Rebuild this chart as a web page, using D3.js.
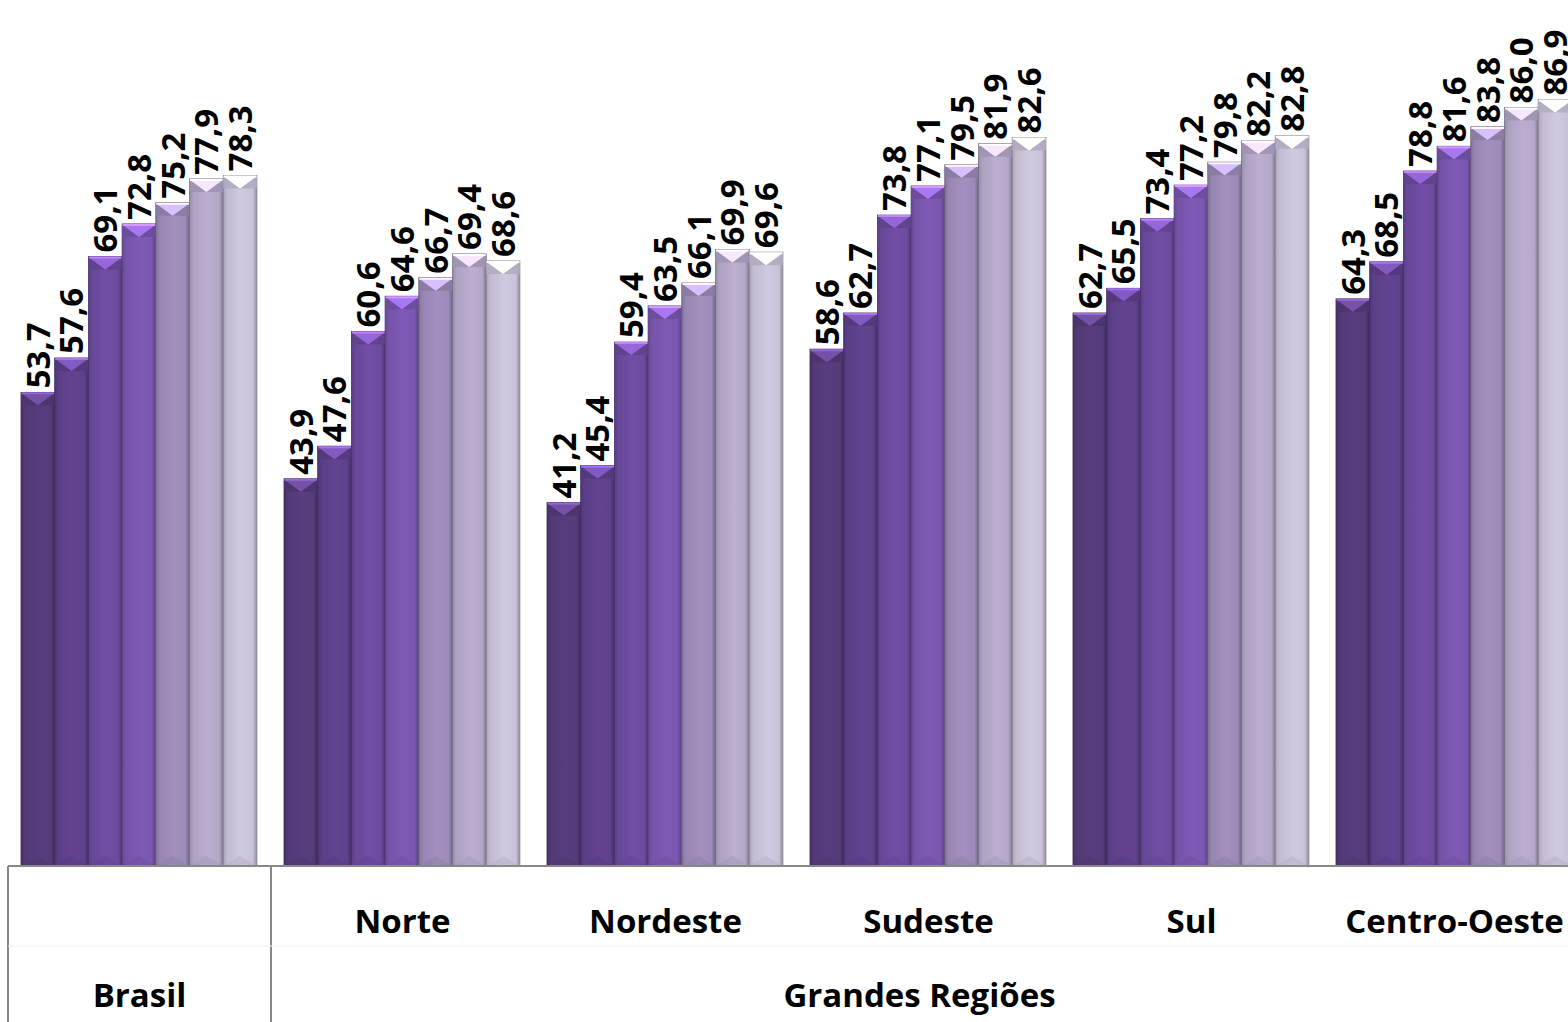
<!DOCTYPE html>
<html>
<head>
<meta charset="utf-8">
<script src="https://cdn.jsdelivr.net/npm/d3@7"></script>
<style>
  body { margin: 0; background: #fff; }
  svg { display: block; }
</style>
</head>
<body>
<svg id="chart" width="1568" height="1022"></svg>
<script>
const categories = ["Brasil", "Norte", "Nordeste", "Sudeste", "Sul", "Centro-Oeste"];
const seriesNames = ["S1", "S2", "S3", "S4", "S5", "S6", "S7"];
const serie1 = [53.7, 43.9, 41.2, 58.6, 62.7, 64.3];
const serie2 = [57.6, 47.6, 45.4, 62.7, 65.5, 68.5];
const serie3 = [69.1, 60.6, 59.4, 73.8, 73.4, 78.8];
const serie4 = [72.8, 64.6, 63.5, 77.1, 77.2, 81.6];
const serie5 = [75.2, 66.7, 66.1, 79.5, 79.8, 83.8];
const serie6 = [77.9, 69.4, 69.9, 81.9, 82.2, 86.0];
const serie7 = [78.3, 68.6, 69.6, 82.6, 82.8, 86.9];
const seriesColors = ["#553b7a", "#5f418d", "#6c4b9f", "#7a57b0", "#9c8bb8", "#b4a8c9", "#cac2d8"];

const allSeries = [serie1, serie2, serie3, serie4, serie5, serie6, serie7];

function drawChart() {
    const svg = d3.select("#chart");
    const baseY = 866;
    const fmt = (v) => d3.format(".1f")(v).replace(".", ",");

    const x0 = d3.scaleBand().domain(categories).range([8, 8 + 263 * categories.length]).paddingInner(0);
    const x1 = d3.scaleBand().domain(seriesNames).range([13, 13 + 7 * 33.7]).padding(0);
    const y = d3.scaleLinear().domain([0, 100]).range([baseY, baseY - 882]);

    const rows = [];
    categories.forEach((c, ci) => {
        allSeries.forEach((s, si) => {
            rows.push({cat: c, serie: seriesNames[si], si: si, value: s[ci]});
        });
    });

    const defs = svg.append("defs");
    seriesColors.forEach((col, i) => {
        const c = d3.color(col);
        const gr = defs.append("linearGradient").attr("id", "g" + i)
            .attr("x1", "0%").attr("x2", "100%").attr("y1", "0%").attr("y2", "0%");
        gr.append("stop").attr("offset", "0%").attr("stop-color", c.darker(0.5));
        gr.append("stop").attr("offset", "12%").attr("stop-color", c.darker(0.1));
        gr.append("stop").attr("offset", "55%").attr("stop-color", c.brighter(0.1));
        gr.append("stop").attr("offset", "88%").attr("stop-color", c);
        gr.append("stop").attr("offset", "100%").attr("stop-color", c.darker(0.9));
    });

    const bars = svg.append("g").selectAll("g")
        .data(rows)
        .join("g")
        .attr("transform", (d) => `translate(${x0(d.cat) + x1(d.serie)},0)`);

    const bw = x1.bandwidth();

    bars.append("rect")
        .attr("x", 0)
        .attr("y", (d) => y(d.value))
        .attr("width", bw)
        .attr("height", (d) => baseY - y(d.value))
        .attr("fill", (d) => `url(#g${d.si})`)
        .attr("stroke", (d) => d3.color(seriesColors[d.si]).darker(1.2))
        .attr("stroke-width", 0.8);

    // bevelled top: side triangles darker, centre V lighter
    bars.append("path")
        .attr("d", (d) => {
            const t = y(d.value);
            return `M0,${t} L${bw / 2},${t + 13} L0,${t + 13} Z M${bw},${t} L${bw / 2},${t + 13} L${bw},${t + 13} Z`;
        })
        .attr("fill", (d) => d3.color(seriesColors[d.si]).darker(0.35))
        .attr("opacity", 0.9);

    bars.append("path")
        .attr("d", (d) => {
            const t = y(d.value);
            return `M0.5,${t + 1} L${bw - 0.5},${t + 1} L${bw / 2},${t + 13} Z`;
        })
        .attr("fill", (d) => d3.color(seriesColors[d.si]).brighter(0.9));

    bars.append("line")
        .attr("x1", 0.5).attr("x2", bw - 0.5)
        .attr("y1", (d) => y(d.value) + 1).attr("y2", (d) => y(d.value) + 1)
        .attr("stroke", (d) => d3.color(seriesColors[d.si]).brighter(1.6))
        .attr("stroke-width", 2);

    // subtle bottom bevel
    bars.append("path")
        .attr("d", `M0,${baseY} L${bw / 2},${baseY - 10} L${bw},${baseY} Z`)
        .attr("fill", (d) => d3.color(seriesColors[d.si]).darker(0.3))
        .attr("opacity", 0.5);

    // value labels
    bars.append("text")
        .attr("transform", (d) => `translate(${bw / 2},${y(d.value) - 4}) rotate(-90)`)
        .attr("dy", "0.36em")
        .attr("text-anchor", "start")
        .attr("font-family", "'Open Sans', sans-serif")
        .attr("font-weight", "bold")
        .attr("font-size", "33px")
        .attr("fill", "#000")
        .text((d) => fmt(d.value));

    // category axis (two levels)
    const ax = svg.append("g").attr("stroke", "#888").attr("stroke-width", 2);
    ax.append("line").attr("x1", 8).attr("x2", 1568).attr("y1", baseY).attr("y2", baseY);
    ax.append("line").attr("x1", 8).attr("x2", 8).attr("y1", baseY).attr("y2", 1022);
    ax.append("line").attr("x1", x0("Norte")).attr("x2", x0("Norte")).attr("y1", baseY).attr("y2", 1022);
    svg.append("line").attr("x1", 8).attr("x2", 1568).attr("y1", 946).attr("y2", 946)
        .attr("stroke", "#f0f0f0").attr("stroke-width", 1);

    svg.append("g")
        .selectAll("text")
        .data(categories.slice(1))
        .join("text")
        .attr("x", (d) => x0(d) + x0.bandwidth() / 2)
        .attr("y", 921)
        .attr("dy", "0.35em")
        .attr("text-anchor", "middle")
        .attr("font-family", "'Open Sans', sans-serif")
        .attr("font-weight", "bold")
        .attr("font-size", "33px")
        .text((d) => d);

    svg.append("text")
        .attr("x", x0("Brasil") + x0.bandwidth() / 2)
        .attr("y", 995)
        .attr("dy", "0.35em")
        .attr("text-anchor", "middle")
        .attr("font-family", "'Open Sans', sans-serif")
        .attr("font-weight", "bold")
        .attr("font-size", "33px")
        .text("Brasil");

    svg.append("text")
        .attr("x", (x0("Norte") + 1568) / 2)
        .attr("y", 995)
        .attr("dy", "0.35em")
        .attr("text-anchor", "middle")
        .attr("font-family", "'Open Sans', sans-serif")
        .attr("font-weight", "bold")
        .attr("font-size", "33px")
        .text("Grandes Regiões");
}

drawChart();
</script>
</body>
</html>
